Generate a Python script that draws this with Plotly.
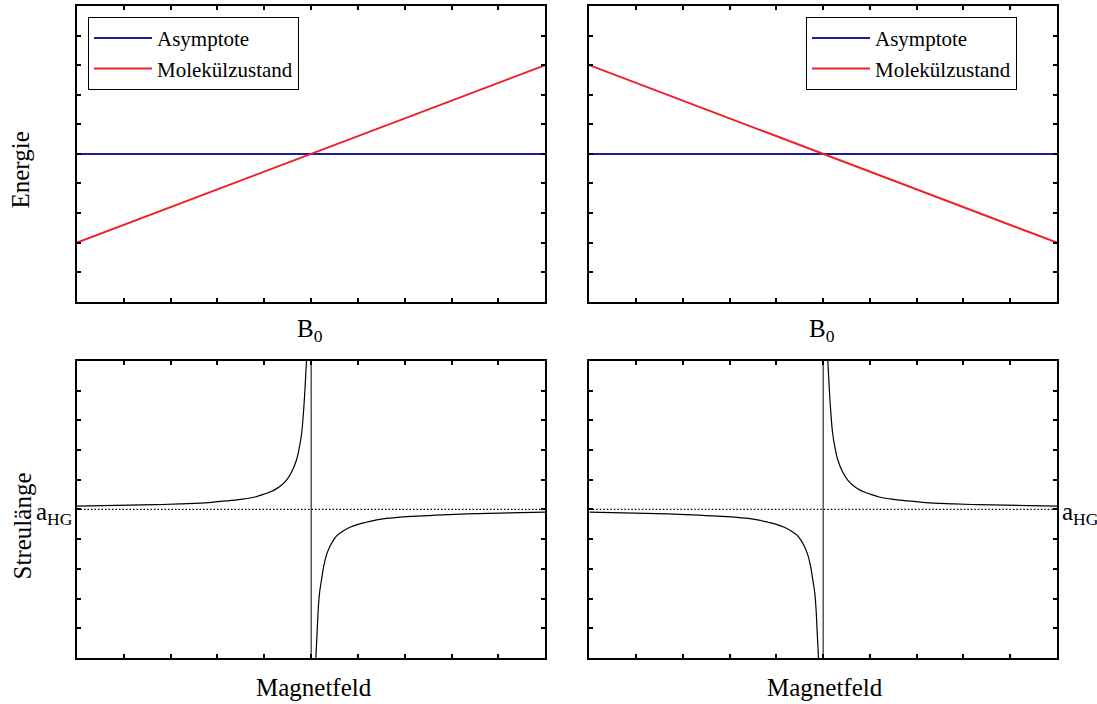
import plotly.graph_objects as go

# ---- data ----
# top panels: energy vs B (arbitrary units, 0..10)
b_x = [0, 10]
asym_y = [5, 5]
mol_left_y = [2, 8]
mol_right_y = [8, 2]

# bottom-left panel: scattering length, two branches around B0 = 5
bl_lo_x = [0.0, 1.68, 2.20, 2.81, 3.26, 3.54, 3.80, 4.00, 4.12, 4.22, 4.33, 4.47, 4.58,
           4.69, 4.74, 4.80, 4.84, 4.87, 4.90]
bl_lo_y = [5.11, 5.16, 5.19, 5.23, 5.30, 5.35, 5.42, 5.52, 5.59, 5.66, 5.77, 5.98, 6.25,
           6.68, 7.02, 7.60, 8.35, 9.10, 10.0]
bl_hi_x = [5.10, 5.13, 5.15, 5.18, 5.22, 5.27, 5.33, 5.40, 5.47, 5.54, 5.65, 5.83, 6.00,
           6.18, 6.40, 6.90, 7.81, 8.80, 10.0]
bl_hi_y = [0.0, 0.95, 1.61, 2.20, 2.62, 3.10, 3.48, 3.75, 3.95, 4.10, 4.24, 4.40, 4.50,
           4.57, 4.65, 4.74, 4.82, 4.87, 4.91]

# bottom-right panel
br_lo_x = [0.0, 1.20, 2.19, 3.10, 3.60, 3.82, 4.00, 4.17, 4.35, 4.46, 4.53, 4.60, 4.67,
           4.73, 4.78, 4.82, 4.85, 4.87, 4.90]
br_lo_y = [4.91, 4.87, 4.82, 4.74, 4.65, 4.57, 4.50, 4.40, 4.24, 4.10, 3.95, 3.75, 3.48,
           3.10, 2.62, 2.20, 1.61, 0.95, 0.0]
br_hi_x = [5.10, 5.13, 5.16, 5.20, 5.26, 5.31, 5.42, 5.53, 5.67, 5.78, 5.88, 6.00, 6.20,
           6.46, 6.74, 7.19, 7.80, 8.32, 10.0]
br_hi_y = [10.0, 9.10, 8.35, 7.60, 7.02, 6.68, 6.25, 5.98, 5.77, 5.66, 5.59, 5.52, 5.42,
           5.35, 5.30, 5.23, 5.19, 5.16, 5.11]

b0 = 5
a_hg = 5
tick_vals = list(range(0, 11))

FONT = "Times New Roman, Liberation Serif, serif"
BLUE = "#1c1c9c"
RED = "#f0202a"

fig = go.Figure()

# top-left
fig.add_trace(go.Scatter(x=b_x, y=asym_y, mode="lines", name="Asymptote",
                         line=dict(color=BLUE, width=2), xaxis="x", yaxis="y", legend="legend"))
fig.add_trace(go.Scatter(x=b_x, y=mol_left_y, mode="lines", name="Molekülzustand",
                         line=dict(color=RED, width=2), xaxis="x", yaxis="y", legend="legend"))
# top-right
fig.add_trace(go.Scatter(x=b_x, y=asym_y, mode="lines", name="Asymptote",
                         line=dict(color=BLUE, width=2), xaxis="x2", yaxis="y2", legend="legend2"))
fig.add_trace(go.Scatter(x=b_x, y=mol_right_y, mode="lines", name="Molekülzustand",
                         line=dict(color=RED, width=2), xaxis="x2", yaxis="y2", legend="legend2"))

# bottom panels
for xa, ya, branches in [
    ("x3", "y3", [(bl_lo_x, bl_lo_y), (bl_hi_x, bl_hi_y)]),
    ("x4", "y4", [(br_lo_x, br_lo_y), (br_hi_x, br_hi_y)]),
]:
    # background scattering length (dotted)
    fig.add_trace(go.Scatter(x=[0, 10], y=[a_hg, a_hg], mode="lines", showlegend=False,
                             line=dict(color="black", width=1.2, dash="1.5px,2px"),
                             xaxis=xa, yaxis=ya, hoverinfo="skip"))
    # resonance position
    fig.add_trace(go.Scatter(x=[b0, b0], y=[0, 10], mode="lines", showlegend=False,
                             line=dict(color="black", width=1), xaxis=xa, yaxis=ya))
    for bx, by in branches:
        fig.add_trace(go.Scatter(x=bx, y=by, mode="lines", showlegend=False,
                                 line=dict(color="black", width=1.2, shape="spline", smoothing=0.8),
                                 xaxis=xa, yaxis=ya))

W, H = 1097, 704
ML, MR, MT, MB = 77, 40, 4, 46
PW, PH = W - ML - MR, H - MT - MB


def px(x):
    return (x - ML) / PW


def py(y):
    return 1 - (y - MT) / PH


ax_common = dict(range=[0, 10], showgrid=False, zeroline=False, showticklabels=False,
                 ticks="inside", ticklen=4, tickwidth=1.5, tickcolor="black",
                 tickvals=tick_vals, showline=True, linecolor="black", linewidth=2,
                 mirror="ticks", fixedrange=True)

xd1 = [0, px(545.3)]
xd2 = [px(589.3), 1]
yd_top = [py(300.7), 1]
yd_bot = [0, py(360)]

leg_common = dict(y=py(15), yanchor="top", xanchor="left", bordercolor="black", borderwidth=1,
                  bgcolor="white", font=dict(family=FONT, size=21, color="black"),
                  tracegroupgap=0, itemwidth=58)

fig.update_layout(
    width=W, height=H,
    margin=dict(l=ML, r=MR, t=MT, b=MB),
    paper_bgcolor="white", plot_bgcolor="white",
    font=dict(family=FONT, size=25, color="black"),
    xaxis=dict(domain=xd1, anchor="y", **ax_common),
    yaxis=dict(domain=yd_top, anchor="x", **ax_common),
    xaxis2=dict(domain=xd2, anchor="y2", **ax_common),
    yaxis2=dict(domain=yd_top, anchor="x2", **ax_common),
    xaxis3=dict(domain=xd1, anchor="y3", **ax_common),
    yaxis3=dict(domain=yd_bot, anchor="x3", **ax_common),
    xaxis4=dict(domain=xd2, anchor="y4", **ax_common),
    yaxis4=dict(domain=yd_bot, anchor="x4", **ax_common),
    legend=dict(x=px(88), **leg_common),
    legend2=dict(x=px(806), **leg_common),
    showlegend=True,
)

TF = dict(family=FONT, size=25, color="black")
ann = []


def label(text, x, y, **kw):
    d = dict(text=text, x=px(x), y=py(y), xref="paper", yref="paper",
             xanchor="center", yanchor="middle", showarrow=False, font=TF)
    d.update(kw)
    ann.append(d)


# y titles
label("Energie", 20, 169, textangle=-90)
label("Streulänge", 22, 526, textangle=-90)
# x titles
for cx in (310, 822):
    label("B<sub>0</sub>", cx, 329)
for cx in (314, 825):
    label("Magnetfeld", cx, 688)
# a_HG labels
ann.append(dict(text="a<sub>HG</sub>", x=0, y=a_hg, xref="x3", yref="y3", xanchor="right",
                yanchor="middle", xshift=-2, yshift=-4, showarrow=False, font=TF))
ann.append(dict(text="a<sub>HG</sub>", x=10, y=a_hg, xref="x4", yref="y4", xanchor="left",
                yanchor="middle", xshift=3, yshift=-4, showarrow=False, font=TF))
fig.update_layout(annotations=ann)

fig.write_html("out.html")
